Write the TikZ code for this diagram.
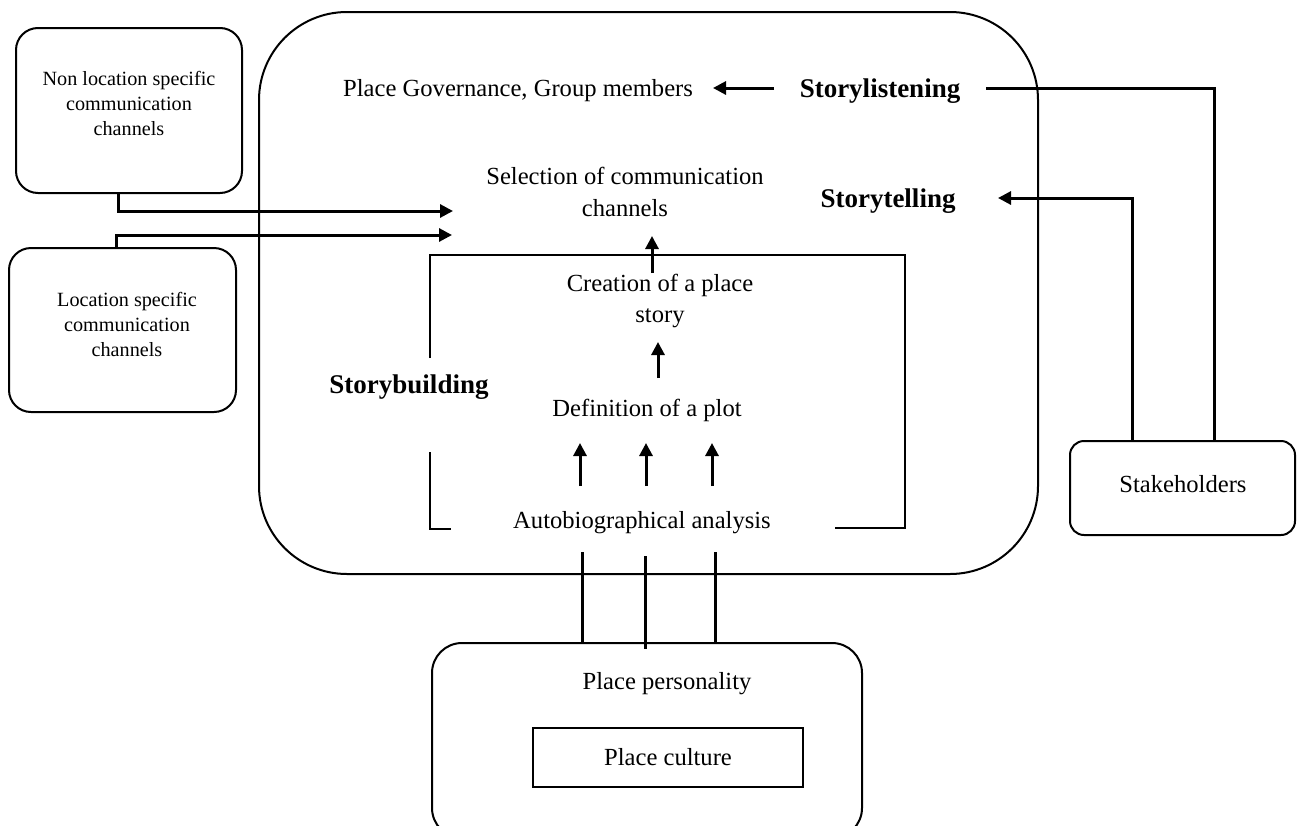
\documentclass[tikz,border=0pt]{standalone}
\usepackage{fontspec}
\setmainfont{Liberation Serif}
\usetikzlibrary{arrows.meta,calc}
\begin{document}
\begin{tikzpicture}[x=1pt,y=-1pt,
  txt/.style={font=\fontsize{24.6}{31.5}\selectfont, align=center, inner sep=0pt},
  small/.style={font=\fontsize{20.2}{25}\selectfont, align=center, inner sep=0pt},
  head/.style={font=\fontsize{27}{32}\selectfont\bfseries, inner sep=0pt},
  box/.style={draw, line width=2pt, rounded corners=#1, inner sep=0pt},
  frame/.style={line width=1.8pt},
  arr/.style={line width=3pt, -{Triangle[length=13pt,width=13pt]}},
  link/.style={line width=3pt},
]
\useasboundingbox (0,0) rectangle (1297,825);
\fill[white] (0,0) rectangle (1297,825);
\clip (0,0) rectangle (1297,825);

% boxes
\node[box=88pt, minimum width=779pt, minimum height=562pt] (main) at (648.5,293) {};
\node[box=22pt, minimum width=226pt, minimum height=165pt] (nonloc) at (129,110.5) {};
\node[small] (nonloctxt) at (129,103) {Non location specific\\communication\\channels};
\node[box=22pt, minimum width=227pt, minimum height=164pt] (loc) at (122.5,330) {};
\node[small] (loctxt) at (127,324) {Location specific\\communication\\channels};
\node[box=14pt, minimum width=225pt, minimum height=94pt] (stake) at (1182.5,488) {};
\node[txt] (staketxt) at (1183,484) {Stakeholders};
\node[box=30pt, minimum width=430pt, minimum height=195pt] (pers) at (647,740.5) {};
\node[txt] (perstxt) at (667,684) {Place personality};
\node[txt, draw, line width=2pt, minimum width=270pt, minimum height=59pt] (cult) at (668,757.5) {Place culture};

% texts in main box
\node[txt, anchor=west] (gov) at (343,91) {Place Governance, Group members};
\node[head] (listen) at (880,91) {Storylistening};
\node[txt] (sel) at (625,192) {Selection of communication\\channels};
\node[head] (tell) at (888,201) {Storytelling};
\node[txt] (create) at (660,301) {Creation of a place\\story};
\node[txt] (plot) at (647,410) {Definition of a plot};
\node[head] (build) at (409,387) {Storybuilding};
\node[txt] (auto) at (642,523) {Autobiographical analysis};

% storybuilding bracket
\draw[frame] (430,358) -- (430,255) -- (905,255) -- (905,528) -- (835,528);
\draw[frame] (430,452) -- (430,529) -- (451,529);

% connector end points
\coordinate (in1) at (453,211);
\coordinate (in2) at (452,235);
\coordinate (cs) at (652,273);
\coordinate (ce) at (652,236);
\coordinate (ps) at (658,378);
\coordinate (pe) at (658,342);
\coordinate (a1s) at (580,486); \coordinate (a1e) at (580,443);
\coordinate (a2s) at (646,486); \coordinate (a2e) at (646,443);
\coordinate (a3s) at (712,486); \coordinate (a3e) at (712,443);
\coordinate (ls) at (986,88);
\coordinate (ts) at (998,198);
\coordinate (gs) at (774,88);
\coordinate (ge) at (713,88);
\coordinate (p1) at (582,552);
\coordinate (p2) at (645,556);
\coordinate (p3) at (715,552);

% connectors
\draw[arr] ([xshift=-11pt]nonloc.south) |- (in1);
\draw[arr] ([xshift=-6.5pt]loc.north) |- (in2);
\draw[arr] (cs) -- (ce);
\draw[arr] (ps) -- (pe);
\draw[arr] (a1s) -- (a1e);
\draw[arr] (a2s) -- (a2e);
\draw[arr] (a3s) -- (a3e);
\draw[arr] (gs) -- (ge);
\draw[link] (ls) -| ([xshift=31.5pt]stake.north);
\draw[arr] ([xshift=-50.5pt]stake.north) |- (ts);
\draw[link] (p1) -- ([xshift=-65pt]pers.north);
\draw[link] (p2) -- ([xshift=-2pt,yshift=-7pt]pers.north);
\draw[link] (p3) -- ([xshift=68pt]pers.north);
\end{tikzpicture}
\end{document}
